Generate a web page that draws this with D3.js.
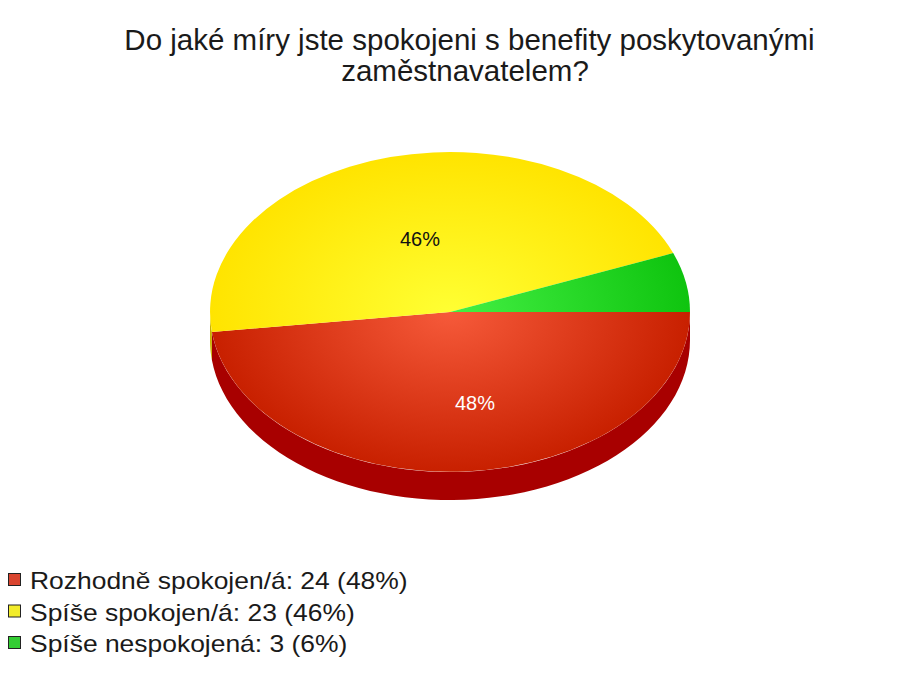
<!DOCTYPE html>
<html><head><meta charset="utf-8">
<script src="https://cdn.jsdelivr.net/npm/d3@7"></script>
<style>body{margin:0;background:#fff}svg{display:block}</style>
</head><body>
<script>
const titleLines = ["Do jaké míry jste spokojeni s benefity poskytovanými", "zaměstnavatelem?"];
const categories = ["Rozhodně spokojen/á", "Spíše spokojen/á", "Spíše nespokojená"];
const counts = [24, 23, 3];
const percents = [48, 46, 6];
const topLight = ["#f65a3a", "#ffff33", "#44f044"];
const topDark = ["#c82000", "#ffe400", "#0fc40f"];
const sideColors = ["#a80000", "#c8b000", "#0a8a0a"];
const legendColors = ["#d9452f", "#f2ec2a", "#33cc33"];

const W = 923, H = 684;
const svg = d3.select("body").append("svg").attr("width", W).attr("height", H);
const defs = svg.append("defs");

const cx = 450, cy = 312, rx = 240, ry = 160, depth = 28;

const pie = d3.pie().sort(null).value(d => d).startAngle(Math.PI/2).endAngle(Math.PI/2 + 2*Math.PI);
const arcs = pie(counts);

categories.forEach((c, i) => {
  const g = defs.append("radialGradient").attr("id", "g" + i)
    .attr("gradientUnits", "userSpaceOnUse").attr("cx", 0).attr("cy", 0).attr("r", 1);
  g.append("stop").attr("offset", "0%").attr("stop-color", topLight[i]);
  g.append("stop").attr("offset", "100%").attr("stop-color", topDark[i]);
});

const pt = (a, dy) => [cx + rx * Math.sin(a), cy - ry * Math.cos(a) + (dy || 0)];

const sideG = svg.append("g");
arcs.forEach((d, i) => {
  const a0 = Math.max(d.startAngle, Math.PI/2), a1 = Math.min(d.endAngle, 3*Math.PI/2);
  if (a1 <= a0) return;
  const n = 60, top = [], bot = [];
  for (let k = 0; k <= n; k++) {
    const a = a0 + (a1 - a0) * k / n;
    top.push(pt(a, 0)); bot.push(pt(a, depth));
  }
  sideG.append("path").attr("d", d3.line()(top.concat(bot.reverse())) + "Z").attr("fill", sideColors[i]);
});

const arcGen = d3.arc().innerRadius(0).outerRadius(1);
const topG = svg.append("g").attr("transform", `translate(${cx},${cy}) scale(${rx},${ry})`);
topG.selectAll("path").data(arcs).join("path")
  .attr("d", arcGen).attr("fill", (d, i) => `url(#g${i})`);

const labelPos = [[475, 410], [420, 246]];
const labelColors = ["#ffffff", "#111111"];
arcs.slice(0, 2).forEach((d, i) => {
  svg.append("text").attr("x", labelPos[i][0]).attr("y", labelPos[i][1])
    .attr("text-anchor", "middle").attr("font-family", "Liberation Sans, Arial, sans-serif")
    .attr("font-size", 20).attr("fill", labelColors[i]).text(percents[i] + "%");
});

svg.append("g").selectAll("text").data(titleLines).join("text")
  .attr("x", (d, i) => i === 0 ? 469.5 : 465).attr("y", (d, i) => 50 + i * 31)
  .attr("text-anchor", "middle").attr("font-family", "Liberation Sans, Arial, sans-serif")
  .attr("font-size", 29.5).attr("fill", "#1a1a1a").text(d => d);

const leg = svg.append("g");
categories.forEach((c, i) => {
  const y = 589 + i * 31.5;
  leg.append("rect").attr("x", 8.5).attr("y", y - 15.5).attr("width", 12).attr("height", 12)
    .attr("fill", legendColors[i]).attr("stroke", "#222").attr("stroke-width", 1);
  leg.append("text").attr("transform", `translate(30,${y}) scale(1.15,1)`)
    .attr("font-family", "Liberation Sans, Arial, sans-serif").attr("font-size", 23)
    .attr("fill", "#1a1a1a").text(`${c}: ${counts[i]} (${percents[i]}%)`);
});
</script>
</body></html>
